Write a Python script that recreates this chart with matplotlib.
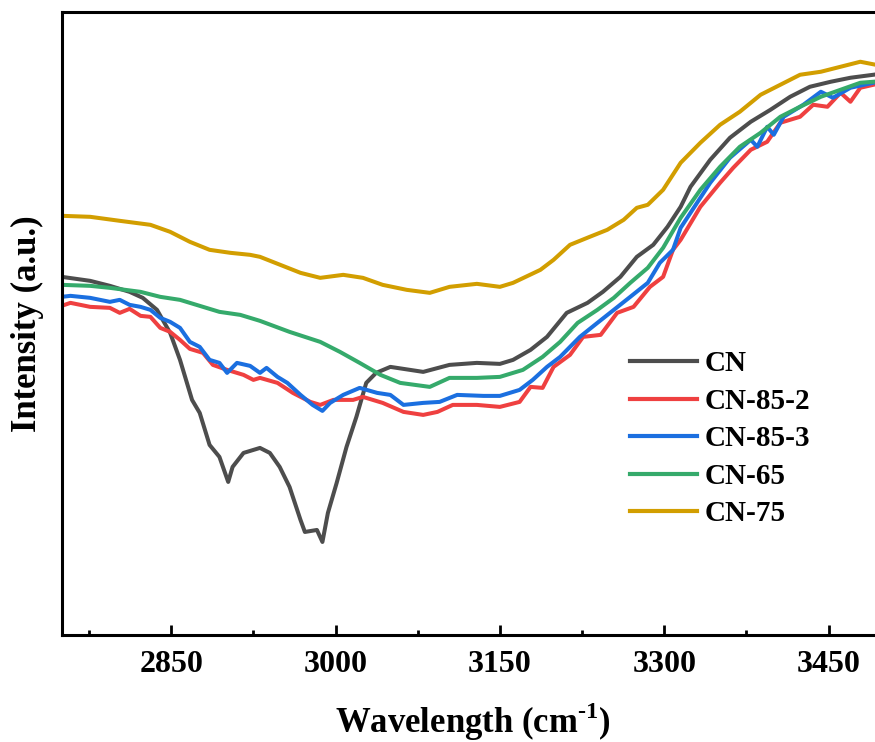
import matplotlib
matplotlib.use("Agg")
import matplotlib.pyplot as plt

plt.rcParams['font.family'] = ['Liberation Serif', 'DejaVu Serif']
plt.rcParams['font.weight'] = 'bold'
plt.rcParams['mathtext.fontset'] = 'custom'
plt.rcParams['mathtext.rm'] = 'Liberation Serif:bold'
plt.rcParams['mathtext.bf'] = 'Liberation Serif:bold'

# wavenumber (cm-1) / intensity (a.u.)
cn_x = [2750, 2776, 2794, 2812, 2824, 2837, 2849, 2858, 2869, 2876, 2885, 2894, 2902, 2906,
        2916, 2931, 2940, 2949, 2958, 2968, 2972, 2983, 2988, 2993, 3001, 3010, 3019, 3028,
        3037, 3050, 3080, 3104, 3129, 3150, 3162, 3178, 3193, 3211, 3230, 3244, 3260, 3275,
        3290, 3303, 3315, 3324, 3342, 3360, 3379, 3397, 3415, 3433, 3452, 3470, 3491]
cn_y = [358, 354, 349, 343, 337, 325, 302, 275, 235, 222, 190, 178, 153, 168,
        182, 187, 182, 168, 148, 115, 103, 105, 93, 122, 152, 188, 218, 252,
        262, 268, 263, 270, 272, 271, 275, 285, 298, 322, 332, 343, 358, 378,
        390, 408, 428, 448, 475, 497, 513, 525, 538, 548, 553, 557, 560]

cn852_x = [2750, 2758, 2776, 2794, 2803, 2812, 2822, 2831, 2840, 2849, 2858, 2867, 2879, 2888,
           2901, 2916, 2925, 2931, 2947, 2961, 2977, 2986, 2998, 3016, 3025, 3043, 3062, 3080,
           3093, 3107, 3129, 3150, 3168, 3178, 3189, 3199, 3214, 3226, 3242, 3257, 3272, 3287,
           3299, 3308, 3315, 3333, 3351, 3363, 3379, 3394, 3406, 3424, 3436, 3449, 3461, 3470,
           3479, 3491]
cn852_y = [329, 332, 328, 327, 322, 326, 319, 318, 307, 303, 295, 286, 282, 270,
           265, 260, 255, 257, 252, 242, 233, 230, 235, 235, 238, 232, 223, 220,
           223, 230, 230, 228, 233, 248, 247, 268, 280, 298, 300, 322, 328, 348,
           358, 385, 395, 428, 452, 467, 485, 493, 512, 518, 530, 528, 542, 533,
           547, 550]

cn853_x = [2750, 2758, 2776, 2794, 2803, 2812, 2822, 2831, 2840, 2849, 2858, 2867, 2876, 2885,
           2894, 2901, 2910, 2922, 2931, 2937, 2947, 2956, 2968, 2979, 2988, 2995, 3007, 3022,
           3038, 3050, 3062, 3080, 3095, 3111, 3135, 3150, 3168, 3180, 3193, 3205, 3223, 3239,
           3254, 3269, 3285, 3296, 3308, 3315, 3324, 3342, 3360, 3379, 3385, 3394, 3400, 3409,
           3427, 3443, 3454, 3470, 3491]
cn853_y = [338, 339, 337, 333, 335, 330, 328, 325, 317, 313, 307, 293, 288, 275,
           272, 262, 272, 269, 262, 267, 258, 252, 240, 230, 224, 232, 240, 247,
           242, 240, 230, 232, 233, 240, 239, 239, 245, 255, 268, 278, 298, 312,
           325, 338, 352, 372, 385, 407, 422, 452, 477, 495, 488, 508, 500, 518,
           530, 543, 537, 547, 552]

cn65_x = [2750, 2776, 2794, 2822, 2840, 2858, 2876, 2894, 2913, 2931, 2958, 2986, 3004, 3022,
          3041, 3059, 3086, 3104, 3129, 3150, 3171, 3189, 3205, 3221, 3239, 3254, 3269, 3285,
          3299, 3315, 3333, 3351, 3369, 3388, 3406, 3424, 3443, 3461, 3479, 3491]
cn65_y = [350, 349, 347, 343, 338, 335, 329, 323, 320, 314, 303, 293, 283, 272,
          260, 252, 248, 257, 257, 258, 265, 278, 293, 312, 325, 337, 352, 367,
          387, 417, 445, 468, 488, 502, 518, 528, 538, 545, 552, 553]

cn75_x = [2750, 2776, 2803, 2831, 2849, 2867, 2885, 2904, 2922, 2931, 2968, 2986, 3007, 3025,
          3043, 3065, 3086, 3104, 3129, 3150, 3162, 3187, 3199, 3214, 3232, 3248, 3263, 3275,
          3285, 3299, 3315, 3333, 3351, 3369, 3388, 3406, 3424, 3443, 3461, 3479, 3493]
cn75_y = [419, 418, 414, 410, 403, 393, 385, 382, 380, 378, 362, 357, 360, 357,
          350, 345, 342, 348, 351, 348, 352, 365, 375, 390, 398, 405, 415, 427,
          430, 445, 472, 492, 510, 523, 540, 550, 560, 563, 568, 573, 570]

series = [
    ("CN", cn_x, cn_y, "#4d4d4d"),
    ("CN-85-2", cn852_x, cn852_y, "#ef4040"),
    ("CN-85-3", cn853_x, cn853_y, "#1b6fe0"),
    ("CN-65", cn65_x, cn65_y, "#35aa6b"),
    ("CN-75", cn75_x, cn75_y, "#d29e00"),
]

fig = plt.figure(figsize=(8.75, 7.42), dpi=100)
ax = fig.add_axes([0.0705, 0.1442, 0.939, 0.84])

for name, xs, ys, c in series:
    ax.plot(xs, ys, color=c, lw=2.9, label=name)

ax.set_xlim(2750, 3500)
ax.set_ylim(0, 623)
ax.set_xticks([2850, 3000, 3150, 3300, 3450])
ax.set_xticks([2775, 2925, 3075, 3225, 3375], minor=True)
ax.set_yticks([])
ax.tick_params(axis='x', which='major', direction='in', length=7, width=2, labelsize=23, pad=11)
ax.tick_params(axis='x', which='minor', direction='in', length=3.5, width=2)
for s in ax.spines.values():
    s.set_linewidth(2.2)

ax.set_xlabel(r'Wavelength (cm$^{\text{-1}}$)', fontsize=25, fontweight='bold', labelpad=15)
ax.set_ylabel('Intensity (a.u.)', fontsize=25, fontweight='bold', labelpad=13)

leg = fig.legend(loc='upper left', bbox_to_anchor=(0.72, 0.528), frameon=False,
                 fontsize=21, handlelength=2.3, handletextpad=0.25, labelspacing=0.36,
                 borderpad=0, borderaxespad=0)
for line in leg.get_lines():
    line.set_linewidth(3)

fig.savefig("out.png", dpi=100)
